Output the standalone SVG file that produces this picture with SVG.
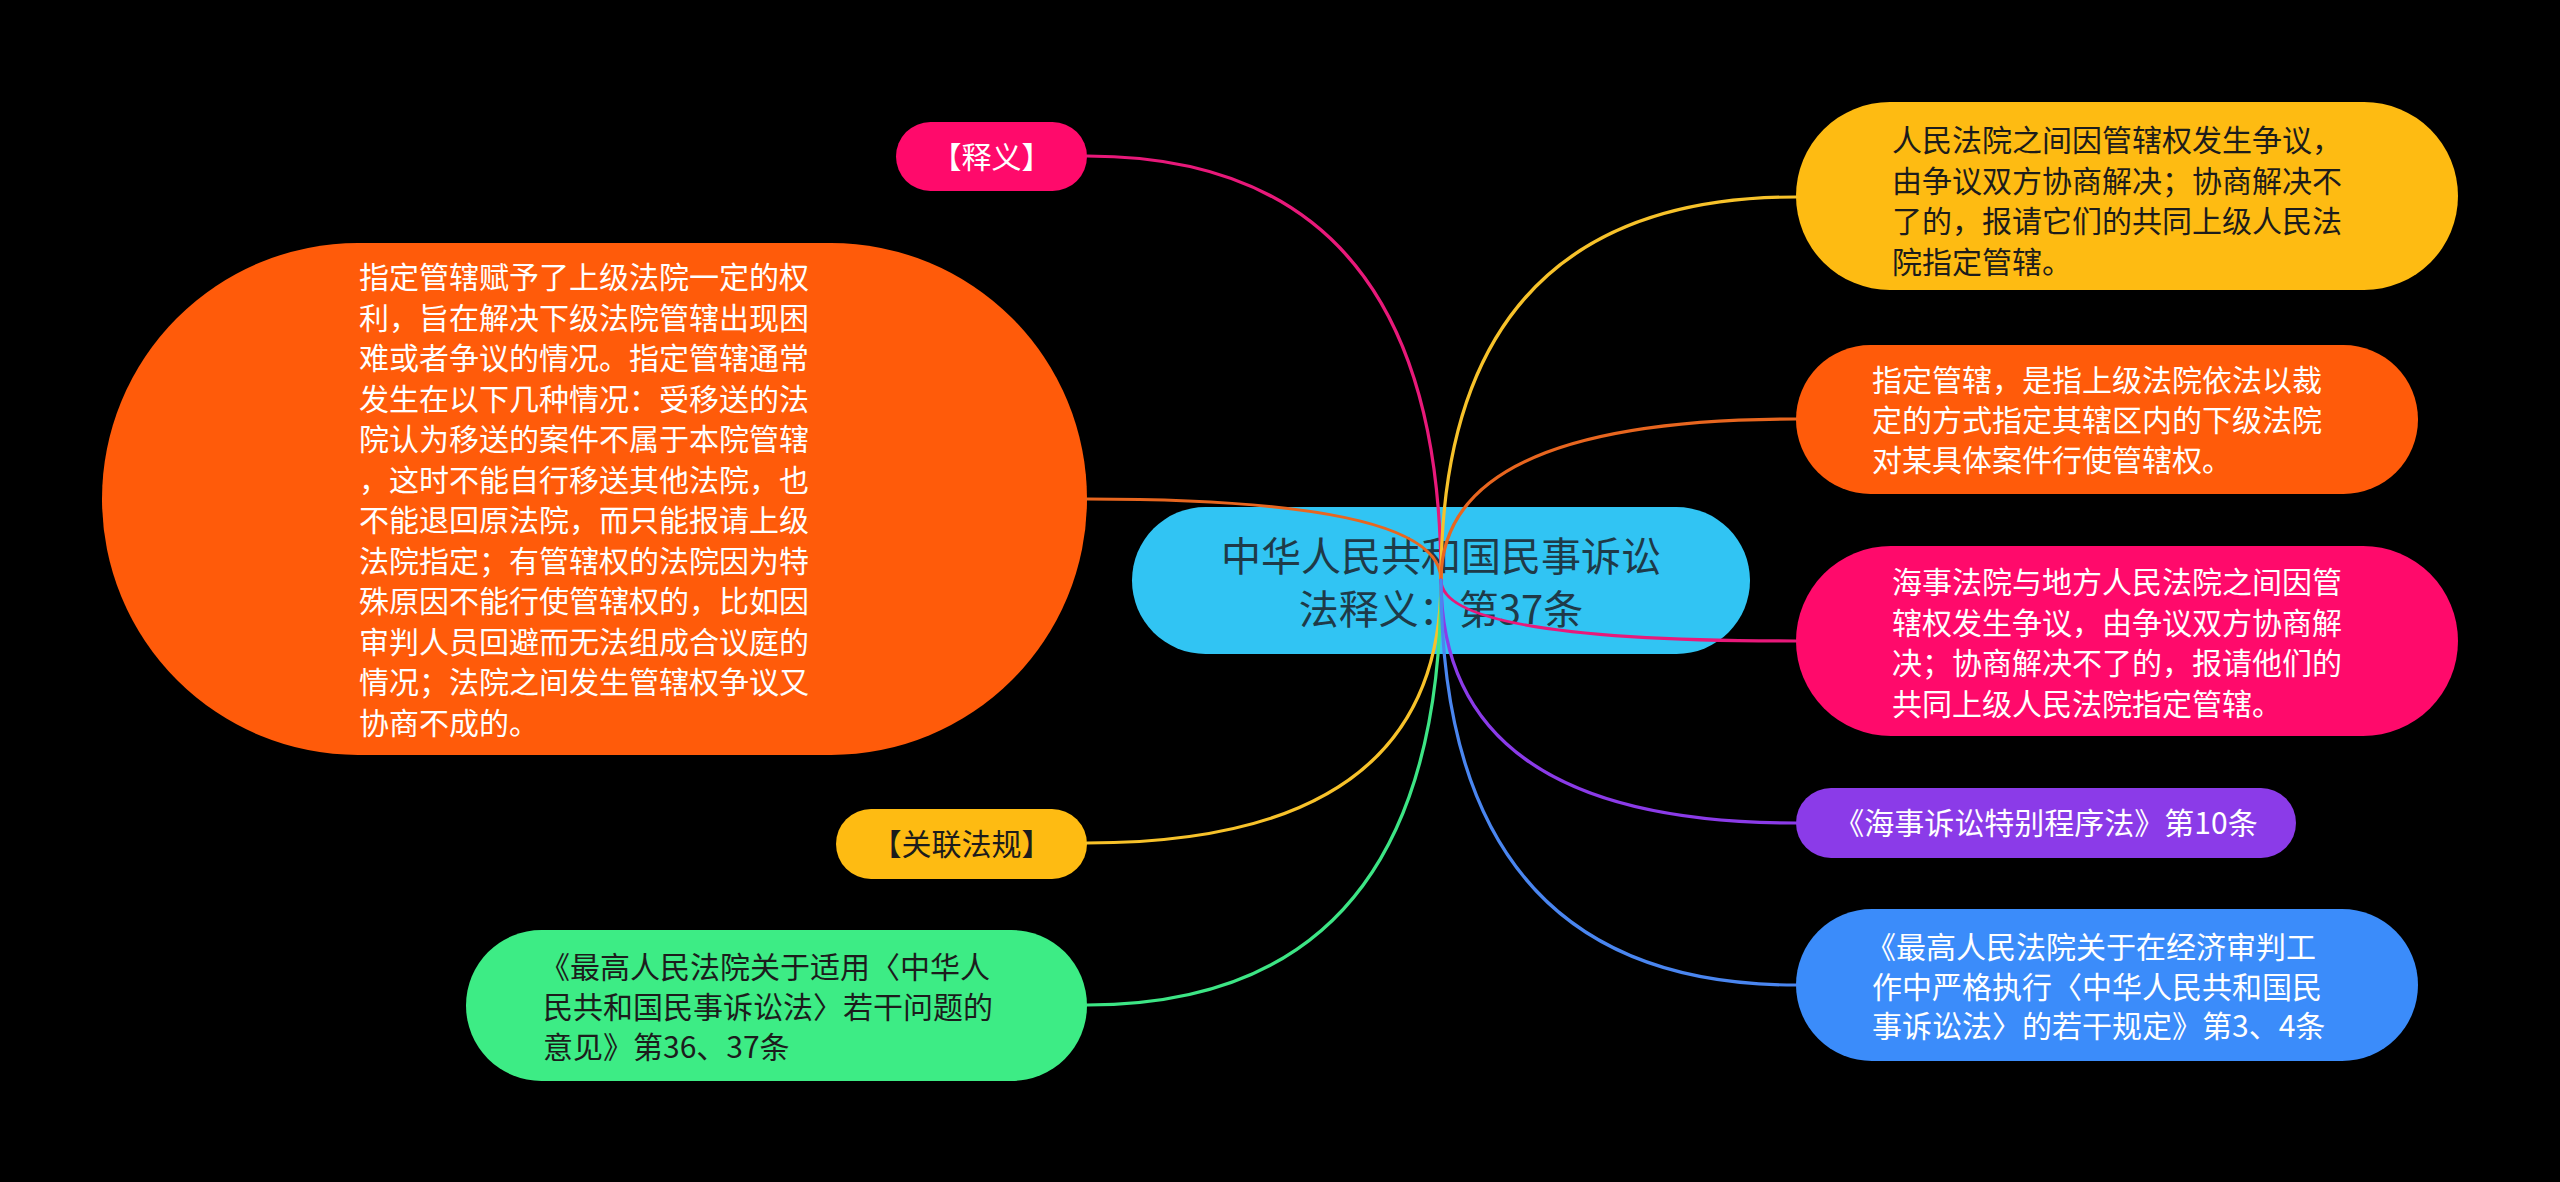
<svg xmlns="http://www.w3.org/2000/svg" width="2560" height="1182" viewBox="0 0 2560 1182">
<style>
text{font-family:"Noto Sans CJK SC","Noto Sans",sans-serif;}
.t30{font-size:30px;}
.dark{fill:#1c1c1c;}
.light{fill:#ffffff;}
.mid{text-anchor:middle;}
.conn{fill:none;stroke-width:3.2;stroke-linecap:round;}
</style>
<rect x="0" y="0" width="2560" height="1182" fill="#000000"/>

<g id="center">
<rect x="1132" y="507" width="618" height="147" rx="73.5" fill="#31C4F3"/>
<text x="1441" y="571" font-size="40" fill="#1f3a48" class="mid">中华人民共和国民事诉讼</text>
<text x="1441" y="624" font-size="40" fill="#1f3a48" class="mid">法释义：第37条</text>
</g>

<g id="node-shiyi">
<rect x="896" y="122" width="191" height="69" rx="34.5" fill="#FF0A6B"/>
<text x="991.5" y="168" class="t30 light mid">【释义】</text>
</g>

<g id="node-explain">
<rect x="102" y="243" width="985" height="512" rx="256" fill="#FF5B0A"/>
<text class="t30 light">
<tspan x="359" y="288">指定管辖赋予了上级法院一定的权</tspan>
<tspan x="359" y="328.5">利，旨在解决下级法院管辖出现困</tspan>
<tspan x="359" y="369">难或者争议的情况。指定管辖通常</tspan>
<tspan x="359" y="409.5">发生在以下几种情况：受移送的法</tspan>
<tspan x="359" y="450">院认为移送的案件不属于本院管辖</tspan>
<tspan x="359" y="490.5">，这时不能自行移送其他法院，也</tspan>
<tspan x="359" y="531">不能退回原法院，而只能报请上级</tspan>
<tspan x="359" y="571.5">法院指定；有管辖权的法院因为特</tspan>
<tspan x="359" y="612">殊原因不能行使管辖权的，比如因</tspan>
<tspan x="359" y="652.5">审判人员回避而无法组成合议庭的</tspan>
<tspan x="359" y="693">情况；法院之间发生管辖权争议又</tspan>
<tspan x="359" y="733.5">协商不成的。</tspan>
</text>
</g>

<g id="node-guanlian">
<rect x="836" y="809" width="251" height="70" rx="35" fill="#FEBB12"/>
<text x="961.5" y="855" class="t30 dark mid">【关联法规】</text>
</g>

<g id="node-green">
<rect x="466" y="930" width="621" height="151" rx="75.5" fill="#3DEC85"/>
<text class="t30 dark">
<tspan x="540" y="978">《最高人民法院关于适用〈中华人</tspan>
<tspan x="543" y="1018">民共和国民事诉讼法〉若干问题的</tspan>
<tspan x="543" y="1058">意见》第36、37条</tspan>
</text>
</g>

<g id="node-r1">
<rect x="1796" y="102" width="662" height="188" rx="94" fill="#FEBB12"/>
<text class="t30 dark">
<tspan x="1892" y="151">人民法院之间因管辖权发生争议，</tspan>
<tspan x="1892" y="191.5">由争议双方协商解决；协商解决不</tspan>
<tspan x="1892" y="232">了的，报请它们的共同上级人民法</tspan>
<tspan x="1892" y="272.5">院指定管辖。</tspan>
</text>
</g>

<g id="node-r2">
<rect x="1796" y="345" width="622" height="149" rx="74.5" fill="#FF5B0A"/>
<text class="t30 light">
<tspan x="1872" y="391">指定管辖，是指上级法院依法以裁</tspan>
<tspan x="1872" y="431">定的方式指定其辖区内的下级法院</tspan>
<tspan x="1872" y="471">对某具体案件行使管辖权。</tspan>
</text>
</g>

<g id="node-r3">
<rect x="1796" y="546" width="662" height="190" rx="95" fill="#FF0A6B"/>
<text class="t30 light">
<tspan x="1892" y="593">海事法院与地方人民法院之间因管</tspan>
<tspan x="1892" y="633.5">辖权发生争议，由争议双方协商解</tspan>
<tspan x="1892" y="674">决；协商解决不了的，报请他们的</tspan>
<tspan x="1892" y="714.5">共同上级人民法院指定管辖。</tspan>
</text>
</g>

<g id="node-r4">
<rect x="1796" y="788" width="500" height="70" rx="35" fill="#8B3BE8"/>
<text x="2046" y="834" class="t30 light mid">《海事诉讼特别程序法》第10条</text>
</g>

<g id="node-r5">
<rect x="1796" y="909" width="622" height="152" rx="76" fill="#3B8CFA"/>
<text class="t30 light">
<tspan x="1866" y="958">《最高人民法院关于在经济审判工</tspan>
<tspan x="1872" y="997.5">作中严格执行〈中华人民共和国民</tspan>
<tspan x="1872" y="1037">事诉讼法〉的若干规定》第3、4条</tspan>
</text>
</g>

<g id="connectors">
<path class="conn" stroke="#E8197A" d="M1441 580 Q1441 156 1087 156"/>
<path class="conn" stroke="#E8661F" d="M1441 580 Q1441 499 1087 499"/>
<path class="conn" stroke="#F7C22A" d="M1441 580 Q1441 843 1087 843"/>
<path class="conn" stroke="#3DE585" d="M1441 580 Q1441 1005 1087 1005"/>
<path class="conn" stroke="#F7C22A" d="M1441 580 Q1441 197 1796 197"/>
<path class="conn" stroke="#E8661F" d="M1441 580 Q1441 419 1796 419"/>
<path class="conn" stroke="#E8197A" d="M1441 580 Q1441 641 1796 641"/>
<path class="conn" stroke="#8B3BE8" d="M1441 580 Q1441 823 1796 823"/>
<path class="conn" stroke="#4A86F0" d="M1441 580 Q1441 985 1796 985"/>
</g>
</svg>
